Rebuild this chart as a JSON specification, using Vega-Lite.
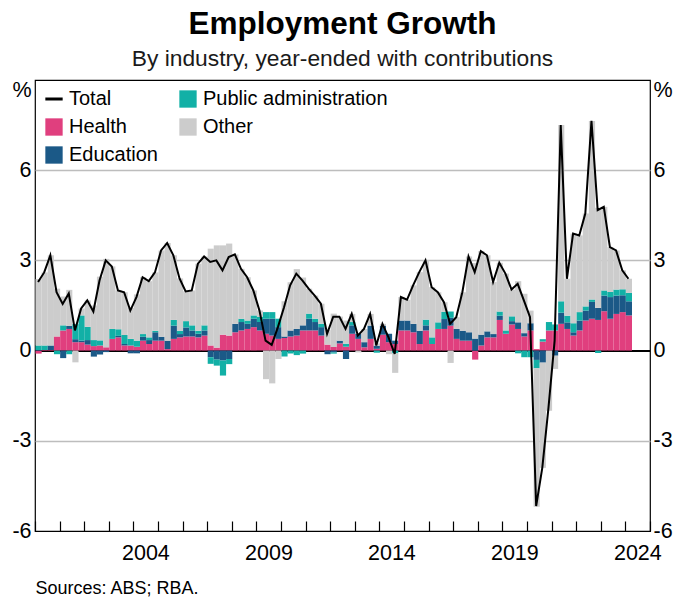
{
  "$schema": "https://vega.github.io/schema/vega-lite/v6.json",
  "width": 615,
  "height": 451,
  "autosize": "none",
  "padding": {"left": 35, "top": 80, "right": 24, "bottom": 68},
  "background": "white",
  "config": {
    "font": "Liberation Sans",
    "view": {"stroke": "black", "strokeWidth": 1.2}
  },
  "title": {
    "text": "Employment Growth",
    "subtitle": "By industry, year-ended with contributions",
    "font": "Liberation Sans",
    "subtitleFont": "Liberation Sans",
    "fontSize": 31.5,
    "fontWeight": "bold",
    "subtitleFontSize": 22.8,
    "color": "black",
    "subtitleColor": "#1a1a1a",
    "anchor": "middle",
    "offset": 8,
    "subtitlePadding": 8
  },
  "data": {
    "values": [
      {"q": "2000-01-01", "Total": 2.28, "Health": -0.1, "Education": 0.02, "Public administration": 0.15, "Other": 2.21},
      {"q": "2000-04-01", "Total": 2.6, "Health": 0.02, "Education": 0.0, "Public administration": 0.15, "Other": 2.43},
      {"q": "2000-07-01", "Total": 3.17, "Health": 0.02, "Education": 0.15, "Public administration": 0.0, "Other": 3.0},
      {"q": "2000-10-01", "Total": 1.94, "Health": 0.47, "Education": 0.0, "Public administration": -0.12, "Other": 1.59},
      {"q": "2001-01-01", "Total": 1.55, "Health": 0.67, "Education": -0.25, "Public administration": 0.17, "Other": 0.96},
      {"q": "2001-04-01", "Total": 1.9, "Health": 0.72, "Education": 0.1, "Public administration": -0.12, "Other": 1.2},
      {"q": "2001-07-01", "Total": 0.67, "Health": 0.28, "Education": 0.1, "Public administration": 0.5, "Other": -0.39},
      {"q": "2001-10-01", "Total": 1.4, "Health": 0.28, "Education": 0.05, "Public administration": 0.84, "Other": 0.23},
      {"q": "2002-01-01", "Total": 1.67, "Health": 0.2, "Education": 0.15, "Public administration": 0.44, "Other": 0.88},
      {"q": "2002-04-01", "Total": 1.3, "Health": 0.15, "Education": -0.2, "Public administration": 0.2, "Other": 1.15},
      {"q": "2002-07-01", "Total": 2.33, "Health": 0.17, "Education": -0.13, "Public administration": 0.17, "Other": 2.12},
      {"q": "2002-10-01", "Total": 3.0, "Health": 0.11, "Education": -0.05, "Public administration": 0.0, "Other": 2.94},
      {"q": "2003-01-01", "Total": 2.8, "Health": 0.39, "Education": 0.0, "Public administration": 0.33, "Other": 2.08},
      {"q": "2003-04-01", "Total": 2.0, "Health": 0.44, "Education": 0.05, "Public administration": 0.22, "Other": 1.29},
      {"q": "2003-07-01", "Total": 1.94, "Health": 0.17, "Education": 0.05, "Public administration": 0.3, "Other": 1.42},
      {"q": "2003-10-01", "Total": 1.33, "Health": 0.17, "Education": -0.09, "Public administration": 0.22, "Other": 1.03},
      {"q": "2004-01-01", "Total": 1.78, "Health": 0.13, "Education": -0.09, "Public administration": 0.2, "Other": 1.54},
      {"q": "2004-04-01", "Total": 2.44, "Health": 0.33, "Education": 0.13, "Public administration": 0.09, "Other": 1.89},
      {"q": "2004-07-01", "Total": 2.31, "Health": 0.22, "Education": 0.13, "Public administration": 0.09, "Other": 1.87},
      {"q": "2004-10-01", "Total": 2.6, "Health": 0.33, "Education": 0.28, "Public administration": 0.05, "Other": 1.94},
      {"q": "2005-01-01", "Total": 3.33, "Health": 0.33, "Education": 0.13, "Public administration": 0.0, "Other": 2.87},
      {"q": "2005-04-01", "Total": 3.58, "Health": 0.05, "Education": 0.28, "Public administration": 0.0, "Other": 3.25},
      {"q": "2005-07-01", "Total": 3.17, "Health": 0.39, "Education": 0.44, "Public administration": 0.19, "Other": 2.15},
      {"q": "2005-10-01", "Total": 2.4, "Health": 0.44, "Education": 0.11, "Public administration": 0.11, "Other": 1.74},
      {"q": "2006-01-01", "Total": 1.97, "Health": 0.47, "Education": 0.3, "Public administration": 0.21, "Other": 0.99},
      {"q": "2006-04-01", "Total": 2.0, "Health": 0.47, "Education": 0.2, "Public administration": 0.17, "Other": 1.16},
      {"q": "2006-07-01", "Total": 2.89, "Health": 0.44, "Education": 0.12, "Public administration": 0.1, "Other": 2.23},
      {"q": "2006-10-01", "Total": 3.13, "Health": 0.5, "Education": 0.17, "Public administration": 0.17, "Other": 2.29},
      {"q": "2007-01-01", "Total": 2.95, "Health": 0.17, "Education": -0.22, "Public administration": -0.22, "Other": 3.22},
      {"q": "2007-04-01", "Total": 3.0, "Health": 0.1, "Education": -0.3, "Public administration": -0.2, "Other": 3.4},
      {"q": "2007-07-01", "Total": 2.67, "Health": 0.53, "Education": -0.33, "Public administration": -0.5, "Other": 2.97},
      {"q": "2007-10-01", "Total": 3.11, "Health": 0.5, "Education": -0.28, "Public administration": -0.17, "Other": 3.06},
      {"q": "2008-01-01", "Total": 3.2, "Health": 0.61, "Education": 0.28, "Public administration": 0.0, "Other": 2.31},
      {"q": "2008-04-01", "Total": 2.72, "Health": 0.67, "Education": 0.28, "Public administration": 0.11, "Other": 1.66},
      {"q": "2008-07-01", "Total": 2.44, "Health": 0.72, "Education": 0.17, "Public administration": 0.11, "Other": 1.44},
      {"q": "2008-10-01", "Total": 2.0, "Health": 0.78, "Education": 0.28, "Public administration": 0.11, "Other": 0.83},
      {"q": "2009-01-01", "Total": 1.33, "Health": 0.67, "Education": 0.28, "Public administration": 0.17, "Other": 0.21},
      {"q": "2009-04-01", "Total": 0.33, "Health": 0.56, "Education": 0.5, "Public administration": 0.22, "Other": -0.95},
      {"q": "2009-07-01", "Total": 0.19, "Health": 0.5, "Education": 0.56, "Public administration": 0.22, "Other": -1.09},
      {"q": "2009-10-01", "Total": 0.78, "Health": 0.39, "Education": 0.39, "Public administration": 0.28, "Other": -0.28},
      {"q": "2010-01-01", "Total": 1.44, "Health": 0.42, "Education": 0.05, "Public administration": -0.2, "Other": 1.17},
      {"q": "2010-04-01", "Total": 2.17, "Health": 0.47, "Education": 0.2, "Public administration": -0.1, "Other": 1.6},
      {"q": "2010-07-01", "Total": 2.56, "Health": 0.5, "Education": 0.22, "Public administration": -0.15, "Other": 1.99},
      {"q": "2010-10-01", "Total": 2.33, "Health": 0.67, "Education": 0.17, "Public administration": -0.1, "Other": 1.59},
      {"q": "2011-01-01", "Total": 2.06, "Health": 0.67, "Education": 0.39, "Public administration": 0.17, "Other": 0.83},
      {"q": "2011-04-01", "Total": 1.83, "Health": 0.67, "Education": 0.28, "Public administration": 0.11, "Other": 0.77},
      {"q": "2011-07-01", "Total": 1.56, "Health": 0.5, "Education": 0.28, "Public administration": 0.11, "Other": 0.67},
      {"q": "2011-10-01", "Total": 0.56, "Health": 0.2, "Education": -0.12, "Public administration": 0.0, "Other": 0.48},
      {"q": "2012-01-01", "Total": 1.13, "Health": 0.12, "Education": -0.06, "Public administration": -0.04, "Other": 1.11},
      {"q": "2012-04-01", "Total": 1.13, "Health": 0.24, "Education": 0.09, "Public administration": 0.0, "Other": 0.8},
      {"q": "2012-07-01", "Total": 0.72, "Health": 0.13, "Education": -0.28, "Public administration": 0.1, "Other": 0.77},
      {"q": "2012-10-01", "Total": 1.22, "Health": 0.56, "Education": 0.28, "Public administration": 0.11, "Other": 0.27},
      {"q": "2013-01-01", "Total": 0.5, "Health": 0.39, "Education": 0.17, "Public administration": 0.0, "Other": -0.06},
      {"q": "2013-04-01", "Total": 0.72, "Health": 0.11, "Education": 0.17, "Public administration": 0.0, "Other": 0.44},
      {"q": "2013-07-01", "Total": 1.22, "Health": 0.39, "Education": 0.44, "Public administration": 0.0, "Other": 0.39},
      {"q": "2013-10-01", "Total": 0.17, "Health": 0.06, "Education": 0.1, "Public administration": -0.07, "Other": 0.08},
      {"q": "2014-01-01", "Total": 0.89, "Health": 0.53, "Education": 0.3, "Public administration": 0.0, "Other": 0.06},
      {"q": "2014-04-01", "Total": 0.44, "Health": 0.28, "Education": 0.28, "Public administration": 0.0, "Other": -0.12},
      {"q": "2014-07-01", "Total": -0.11, "Health": 0.22, "Education": 0.11, "Public administration": -0.09, "Other": -0.65},
      {"q": "2014-10-01", "Total": 1.78, "Health": 0.67, "Education": 0.33, "Public administration": 0.0, "Other": 0.78},
      {"q": "2015-01-01", "Total": 1.69, "Health": 0.67, "Education": 0.33, "Public administration": 0.0, "Other": 0.69},
      {"q": "2015-04-01", "Total": 2.17, "Health": 0.61, "Education": 0.28, "Public administration": 0.0, "Other": 1.28},
      {"q": "2015-07-01", "Total": 2.61, "Health": 0.22, "Education": 0.44, "Public administration": 0.0, "Other": 1.95},
      {"q": "2015-10-01", "Total": 3.0, "Health": 0.67, "Education": 0.17, "Public administration": 0.19, "Other": 1.97},
      {"q": "2016-01-01", "Total": 2.11, "Health": 0.22, "Education": 0.0, "Public administration": 0.22, "Other": 1.67},
      {"q": "2016-04-01", "Total": 1.94, "Health": 0.72, "Education": 0.0, "Public administration": 0.22, "Other": 1.0},
      {"q": "2016-07-01", "Total": 1.61, "Health": 0.72, "Education": 0.33, "Public administration": 0.24, "Other": 0.32},
      {"q": "2016-10-01", "Total": 0.89, "Health": 0.83, "Education": 0.26, "Public administration": 0.21, "Other": -0.41},
      {"q": "2017-01-01", "Total": 1.11, "Health": 0.39, "Education": 0.33, "Public administration": 0.0, "Other": 0.39},
      {"q": "2017-04-01", "Total": 1.94, "Health": 0.33, "Education": 0.33, "Public administration": 0.0, "Other": 1.28},
      {"q": "2017-07-01", "Total": 3.13, "Health": 0.33, "Education": 0.28, "Public administration": 0.0, "Other": 2.52},
      {"q": "2017-10-01", "Total": 2.61, "Health": -0.3, "Education": 0.4, "Public administration": 0.0, "Other": 2.51},
      {"q": "2018-01-01", "Total": 3.31, "Health": 0.17, "Education": 0.36, "Public administration": 0.0, "Other": 2.78},
      {"q": "2018-04-01", "Total": 3.17, "Health": 0.44, "Education": 0.2, "Public administration": 0.0, "Other": 2.53},
      {"q": "2018-07-01", "Total": 2.28, "Health": 0.44, "Education": 0.11, "Public administration": 0.0, "Other": 1.73},
      {"q": "2018-10-01", "Total": 2.92, "Health": 1.02, "Education": 0.14, "Public administration": 0.14, "Other": 1.62},
      {"q": "2019-01-01", "Total": 2.56, "Health": 0.56, "Education": 0.0, "Public administration": 0.11, "Other": 1.89},
      {"q": "2019-04-01", "Total": 2.03, "Health": 0.87, "Education": 0.11, "Public administration": 0.16, "Other": 0.89},
      {"q": "2019-07-01", "Total": 2.22, "Health": 0.72, "Education": 0.22, "Public administration": -0.09, "Other": 1.37},
      {"q": "2019-10-01", "Total": 1.67, "Health": 0.47, "Education": 0.11, "Public administration": -0.22, "Other": 1.31},
      {"q": "2020-01-01", "Total": 1.11, "Health": 0.67, "Education": 0.24, "Public administration": -0.22, "Other": 0.42},
      {"q": "2020-04-01", "Total": -5.17, "Health": 0.05, "Education": -0.31, "Public administration": -0.28, "Other": -4.6},
      {"q": "2020-07-01", "Total": -3.89, "Health": 0.3, "Education": -0.4, "Public administration": 0.08, "Other": -3.5},
      {"q": "2020-10-01", "Total": -1.89, "Health": 0.67, "Education": 0.0, "Public administration": 0.28, "Other": -2.0},
      {"q": "2021-01-01", "Total": 0.33, "Health": 0.67, "Education": -0.17, "Public administration": 0.2, "Other": -0.44},
      {"q": "2021-04-01", "Total": 7.5, "Health": 0.89, "Education": 0.37, "Public administration": 0.38, "Other": 5.86},
      {"q": "2021-07-01", "Total": 2.39, "Health": 0.72, "Education": 0.22, "Public administration": 0.22, "Other": 1.23},
      {"q": "2021-10-01", "Total": 3.89, "Health": 0.5, "Education": 0.11, "Public administration": 0.3, "Other": 2.98},
      {"q": "2022-01-01", "Total": 3.83, "Health": 0.67, "Education": 0.33, "Public administration": 0.28, "Other": 2.55},
      {"q": "2022-04-01", "Total": 4.56, "Health": 1.0, "Education": 0.33, "Public administration": 0.14, "Other": 3.09},
      {"q": "2022-07-01", "Total": 7.64, "Health": 1.06, "Education": 0.56, "Public administration": 0.08, "Other": 5.94},
      {"q": "2022-10-01", "Total": 4.67, "Health": 1.02, "Education": 0.4, "Public administration": -0.08, "Other": 3.33},
      {"q": "2023-01-01", "Total": 4.78, "Health": 1.31, "Education": 0.52, "Public administration": 0.17, "Other": 2.78},
      {"q": "2023-04-01", "Total": 3.44, "Health": 1.06, "Education": 0.72, "Public administration": 0.17, "Other": 1.49},
      {"q": "2023-07-01", "Total": 3.33, "Health": 1.22, "Education": 0.61, "Public administration": 0.2, "Other": 1.3},
      {"q": "2023-10-01", "Total": 2.67, "Health": 1.28, "Education": 0.56, "Public administration": 0.2, "Other": 0.63},
      {"q": "2024-01-01", "Total": 2.39, "Health": 1.17, "Education": 0.47, "Public administration": 0.28, "Other": 0.47}
    ]
  },
  "layer": [
    {
      "mark": {"type": "rule", "color": "black", "strokeWidth": 1.2},
      "encoding": {
        "y": {"datum": 0, "type": "quantitative", "axis": null}
      }
    },
    {
      "transform": [
        {"fold": ["Health", "Education", "Public administration", "Other"], "as": ["series", "value"]},
        {"window": [{"op": "row_number", "as": "stackRank"}], "groupby": ["q"]}
      ],
      "mark": {"type": "bar", "binSpacing": 0},
      "encoding": {
        "x": {
          "field": "q",
          "timeUnit": "utcyearquarter",
          "type": "temporal",
          "scale": {
            "type": "utc",
            "domain": [
              {"year": 2000, "month": 1, "date": 1, "utc": true},
              {"year": 2025, "month": 1, "date": 1, "utc": true}
            ],
            "nice": false
          },
          "axis": {
            "title": "Sources: ABS; RBA.",
            "titleFont": "Liberation Sans",
            "titleFontSize": 18,
            "titleFontWeight": "normal",
            "titleColor": "black",
            "titleAnchor": "start",
            "titleAlign": "left",
            "titlePadding": 15,
            "tickCount": {"interval": "year", "step": 1},
            "tickSize": -10,
            "tickColor": "black",
            "tickWidth": 1.2,
            "domain": false,
            "grid": false,
            "labelExpr": "indexof([2004, 2009, 2014, 2019, 2024], utcyear(datum.value)) >= 0 ? utcFormat(datum.value, '%Y') : ''",
            "labelOffset": 12,
            "labelFlush": false,
            "labelOverlap": false,
            "labelPadding": 21.5,
            "labelFontSize": 21.5,
            "labelColor": "black",
            "labelFont": "Liberation Sans"
          }
        },
        "y": {
          "field": "value",
          "type": "quantitative",
          "stack": "zero",
          "scale": {"domain": [-6, 9], "nice": false, "zero": false},
          "axis": {
            "orient": "left",
            "title": null,
            "values": [-6, -3, 0, 3, 6, 9],
            "labelExpr": "datum.value == 9 ? '%' : '' + datum.value",
            "labelFontSize": 21.5,
            "labelFont": "Liberation Sans",
            "labelColor": "black",
            "labelPadding": 4,
            "labelOffset": {"condition": {"test": "datum.value == 9", "value": 10}, "value": 0},
            "ticks": false,
            "domain": false,
            "grid": true,
            "gridColor": "#bdbdbd",
            "gridWidth": 1.3,
            "gridOpacity": {"condition": {"test": "datum.value == 9 || datum.value == -6 || datum.value == 0", "value": 0}, "value": 1}
          }
        },
        "color": {
          "field": "series",
          "type": "nominal",
          "scale": {
            "domain": ["Total", "Health", "Education", "Public administration", "Other"],
            "range": ["#000000", "#e03f7e", "#1b5987", "#12b0a6", "#cccccc"]
          },
          "legend": {
            "title": null,
            "orient": "top-left",
            "offset": 9,
            "padding": 0,
            "columns": 2,
            "columnPadding": 20,
            "rowPadding": 8,
            "symbolSize": 300,
            "symbolType": "square",
            "symbolStrokeWidth": 0,
            "labelFontSize": 20,
            "labelFont": "Liberation Sans",
            "labelColor": "black",
            "labelOffset": 5,
            "labelLimit": 400,
            "encode": {
              "symbols": {
                "update": {
                  "shape": {"signal": "datum.value === 'Total' ? 'stroke' : 'square'"},
                  "fill": {"signal": "scale('color', datum.value)"},
                  "stroke": {"signal": "datum.value === 'Total' ? '#000000' : 'transparent'"},
                  "strokeWidth": {"signal": "datum.value === 'Total' ? 3 : 0"},
                  "opacity": {"value": 1}
                }
              }
            }
          }
        },
        "order": {"field": "stackRank", "type": "quantitative", "sort": "ascending"}
      }
    },
    {
      "mark": {"type": "line", "strokeWidth": 2, "color": "black"},
      "encoding": {
        "x": {
          "field": "q",
          "timeUnit": "utcyearquarter",
          "type": "temporal",
          "bandPosition": 0.5,
          "axis": {
            "title": "Sources: ABS; RBA.",
            "titleFont": "Liberation Sans",
            "titleFontSize": 18,
            "titleFontWeight": "normal",
            "titleColor": "black",
            "titleAnchor": "start",
            "titleAlign": "left",
            "titlePadding": 15,
            "tickCount": {"interval": "year", "step": 1},
            "tickSize": -10,
            "tickColor": "black",
            "tickWidth": 1.2,
            "domain": false,
            "grid": false,
            "labelExpr": "indexof([2004, 2009, 2014, 2019, 2024], utcyear(datum.value)) >= 0 ? utcFormat(datum.value, '%Y') : ''",
            "labelOffset": 12,
            "labelFlush": false,
            "labelOverlap": false,
            "labelPadding": 21.5,
            "labelFontSize": 21.5,
            "labelColor": "black",
            "labelFont": "Liberation Sans"
          }
        },
        "y": {
          "field": "Total",
          "type": "quantitative",
          "axis": {
            "orient": "right",
            "title": null,
            "values": [-6, -3, 0, 3, 6, 9],
            "labelExpr": "datum.value == 9 ? '%' : '' + datum.value",
            "labelFontSize": 21.5,
            "labelFont": "Liberation Sans",
            "labelColor": "black",
            "labelPadding": 3,
            "labelOffset": {"condition": {"test": "datum.value == 9", "value": 10}, "value": 0},
            "ticks": false,
            "domain": false,
            "grid": false
          }
        },
        "color": {"datum": "Total", "type": "nominal"}
      }
    }
  ],
  "resolve": {"axis": {"y": "independent"}}
}
